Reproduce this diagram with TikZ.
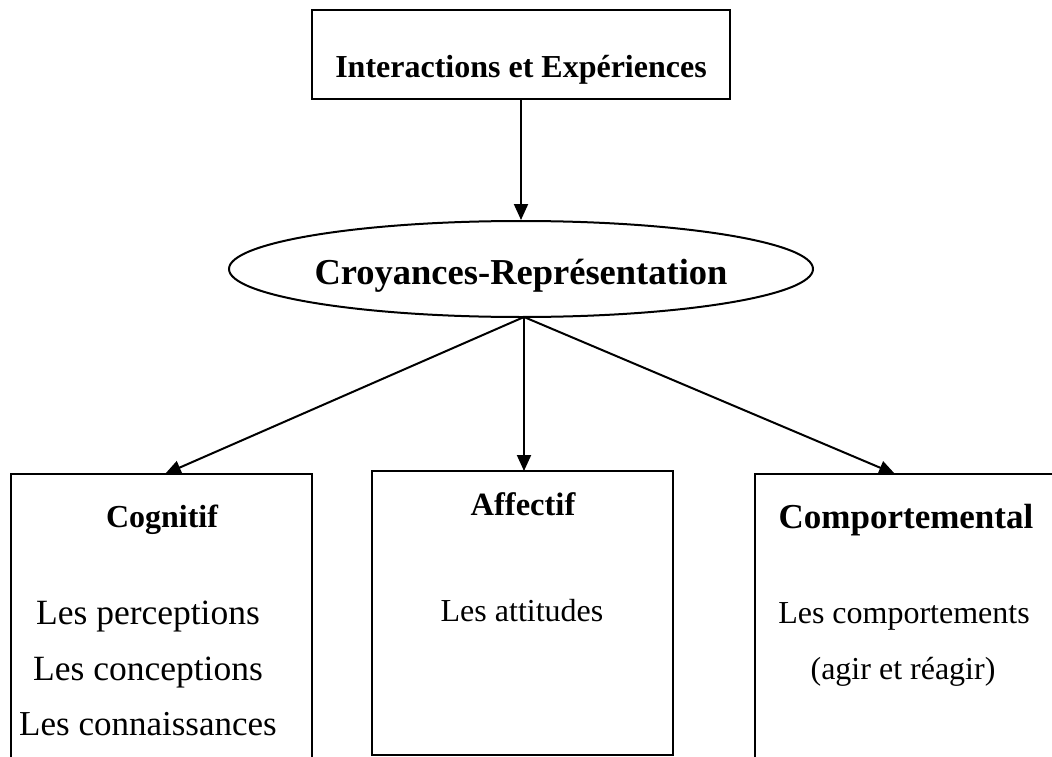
\documentclass[tikz,border=0pt]{standalone}
\usepackage{fontspec}
\setmainfont{Liberation Serif}
\usetikzlibrary{shapes.geometric,arrows.meta}
\begin{document}
\begin{tikzpicture}[x=1pt,y=-1pt,
  box/.style={draw,line width=2pt,inner sep=0pt,minimum width=#1},
  lbl/.style={font=\fontsize{#1}{38}\selectfont\bfseries,anchor=base,inner sep=0pt},
  lbl/.default=32,
  txt/.style={font=\fontsize{#1}{38}\selectfont,anchor=base,inner sep=0pt},
  txt/.default=32,
  arr/.style={line width=2pt,-{Triangle[length=16pt,width=14pt]}}]
\useasboundingbox (0,0) rectangle (1052,757);
\clip (0,0) rectangle (1052,757);
% boxes
\node[box=418pt,minimum height=89pt] (top) at (521,54.5) {};
\node[draw,ellipse,line width=2pt,minimum width=584pt,minimum height=96pt,inner sep=0pt] (ell) at (521,269) {};
\node[box=301pt,minimum height=340pt] (cog) at (161.5,644) {};
\node[box=301pt,minimum height=284pt] (aff) at (522.5,613) {};
\node[box=360pt,minimum height=340pt] (com) at (935,644) {};
% texts
\node[lbl] (t1) at (521,78) {Interactions et Expériences};
\node[lbl=36.5] (t2) at (521,284) {Croyances-Représentation};
\node[lbl] (h1) at (162,527) {Cognitif};
\node[lbl=32.5] (h2) at (523,515) {Affectif};
\node[lbl=35] (h3) at (906,528) {Comportemental};
\node[txt=35.5] (c1) at (148,624) {Les perceptions};
\node[txt=35.5] (c2) at (148,680) {Les conceptions};
\node[txt=35] (c3) at (148,735) {Les connaissances};
\node[txt] (a1) at (522,621) {Les attitudes};
\node[txt] (m1) at (904,623) {Les comportements};
\node[txt] (m2) at (903,679) {(agir et réagir)};
% arrow targets
\coordinate (cogtip) at (165,474);
\coordinate (afftip) at (524,471);
\coordinate (comtip) at (895,474);
\coordinate (topout) at (521,99);
\coordinate (ellout) at (524,317);
% connectors
\draw[arr] (topout) -- (ell.north);
\draw[arr] (ellout) -- (cogtip);
\draw[arr] (ellout) -- (afftip);
\draw[arr] (ellout) -- (comtip);
\end{tikzpicture}
\end{document}
